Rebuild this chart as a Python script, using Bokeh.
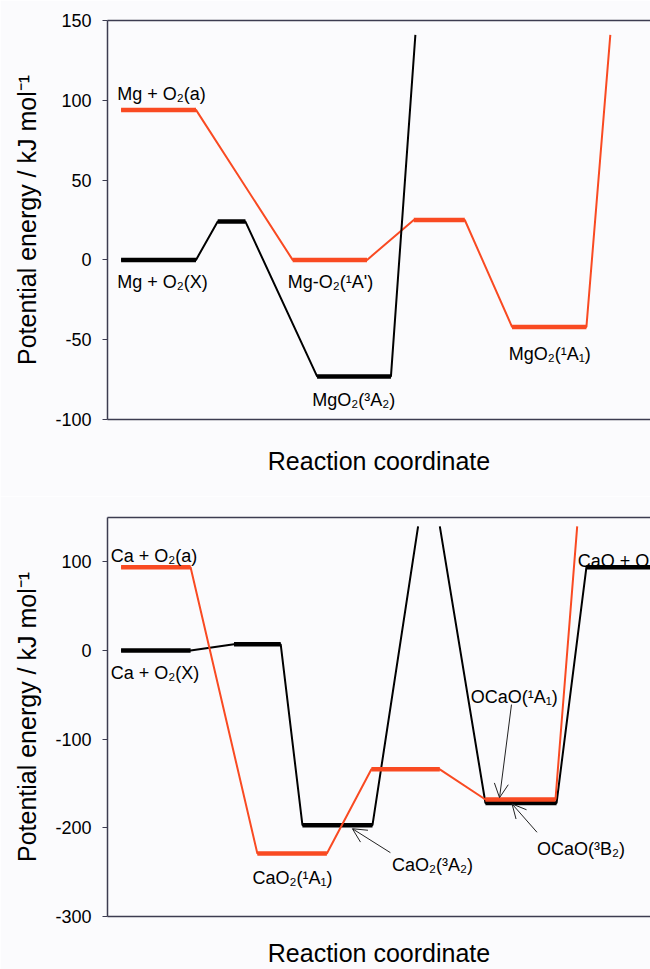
from bokeh.plotting import figure
from bokeh.layouts import column
from bokeh.models import Range1d, FixedTicker, LinearAxis, ColumnDataSource, Arrow, OpenHead
from bokeh.core.properties import value
from bokeh.embed import file_html
from bokeh.resources import INLINE

FONT = "Liberation Sans"
BLACK = "#000000"
RED = "#f94a22"
AXIS = "#3c3c50"
BG = "#fbfbfd"

# ---------------- Mg + O2 panel ----------------
mg_yticks = [-100, -50, 0, 50, 100, 150]
mg_black_x = [0.25, 1.63, 2.03, 2.54, 3.86, 5.22, 5.67]
mg_black_y = [0, 0, 24, 24, -73, -73, 141]
mg_red_x = [0.25, 1.63, 3.41, 4.78, 5.64, 6.58, 7.45, 8.82, 9.26]
mg_red_y = [94, 94, 0, 0, 25, 25, -42, -42, 141]
mg_labels = ["Mg + O₂(a)", "Mg + O₂(X)", "Mg-O₂(¹A')", "MgO₂(³A₂)", "MgO₂(¹A₁)"]
mg_label_x = [0.18, 0.18, 3.32, 3.77, 7.39]
mg_label_y = [104, -14, -14, -88, -59]

# ---------------- Ca + O2 panel ----------------
ca_yticks = [-300, -200, -100, 0, 100]
ca_black1_x = [0.25, 1.53, 2.33, 3.19, 3.59, 4.88, 5.72]
ca_black1_y = [0, 0, 7, 7, -197, -197, 140]
ca_black2_x = [6.12, 6.96, 8.27, 8.82, 10.5]
ca_black2_y = [140, -172, -172, 94, 94]
ca_red_x = [0.25, 1.53, 2.76, 4.04, 4.86, 6.12, 6.96, 8.25, 8.65]
ca_red_y = [94, 94, -229, -229, -134, -134, -168, -168, 140]
ca_labels = ["Ca + O₂(a)", "Ca + O₂(X)", "CaO₂(¹A₁)", "CaO₂(³A₂)", "OCaO(¹A₁)", "OCaO(³B₂)", "CaO + O"]
ca_label_x = [0.06, 0.06, 2.67, 5.24, 6.69, 7.91, 8.66]
ca_label_y = [107, -25, -257, -242, -52, -224, 101]
ca_arrow_x0 = [5.21, 7.44, 7.91]
ca_arrow_y0 = [-228, -61, -205]
ca_arrow_x1 = [4.51, 7.22, 7.45]
ca_arrow_y1 = [-201, -166, -173]

Y_LABEL = "Potential energy / kJ mol⁻¹"
X_LABEL = "Reaction coordinate"


def make_fig(height, ylo, yhi, yticks, top_border, bottom_border, standoff):
    p = figure(width=650, height=height, x_range=Range1d(0, 10), y_range=Range1d(ylo, yhi),
               output_backend="svg", toolbar_location=None,
               min_border_left=107, min_border_right=0,
               min_border_top=top_border, min_border_bottom=bottom_border)
    p.background_fill_color = BG
    p.border_fill_color = BG
    p.outline_line_color = None
    p.grid.visible = False

    xa = p.xaxis[0]
    xa.ticker = FixedTicker(ticks=[])
    xa.major_tick_out = 0
    xa.major_tick_in = 0
    xa.minor_tick_out = 0
    xa.axis_line_color = AXIS
    xa.axis_line_width = 1.5
    xa.axis_label = X_LABEL
    xa.axis_label_text_font = FONT
    xa.axis_label_text_font_size = "25px"
    xa.axis_label_text_font_style = "normal"
    xa.axis_label_text_color = "#000000"
    xa.axis_label_standoff = standoff

    top = LinearAxis(ticker=FixedTicker(ticks=[]), major_tick_out=0, major_tick_in=0,
                     minor_tick_out=0, axis_line_color=AXIS, axis_line_width=1.5)
    p.add_layout(top, "above")

    ya = p.yaxis[0]
    ya.ticker = FixedTicker(ticks=yticks)
    ya.major_label_overrides = {t: str(t) for t in yticks}
    ya.major_tick_out = 5
    ya.major_tick_in = 0
    ya.minor_tick_out = 0
    ya.minor_tick_in = 0
    ya.major_tick_line_color = AXIS
    ya.axis_line_color = AXIS
    ya.axis_line_width = 1.5
    ya.major_label_text_font = FONT
    ya.major_label_text_font_size = "18px"
    ya.major_label_text_color = "#000000"
    ya.major_label_standoff = 11
    ya.axis_label = Y_LABEL
    ya.axis_label_text_font = FONT
    ya.axis_label_text_font_size = "25px"
    ya.axis_label_text_font_style = "normal"
    ya.axis_label_text_color = "#000000"
    ya.axis_label_standoff = 11
    return p


def draw_path(p, xs, ys, color, thin=2, thick=4.5):
    p.line(xs, ys, line_color=color, line_width=thin)
    x0, x1, y0 = [], [], []
    for i in range(len(xs) - 1):
        if ys[i] == ys[i + 1]:
            x0.append(xs[i]); x1.append(xs[i + 1]); y0.append(ys[i])
    p.segment(x0=x0, y0=y0, x1=x1, y1=y0, line_color=color, line_width=thick, line_cap="butt")


def draw_labels(p, xs, ys, texts):
    src = ColumnDataSource(dict(x=xs, y=ys, t=texts))
    p.text(x="x", y="y", text="t", source=src, text_font=value(FONT), text_font_size="18px",
           text_color="#000000", text_align="left", text_baseline="alphabetic")


# top panel
p1 = make_fig(496, -100, 150, mg_yticks, 20, 77, 27)
draw_path(p1, mg_red_x, mg_red_y, RED)
draw_path(p1, mg_black_x, mg_black_y, BLACK)
draw_labels(p1, mg_label_x, mg_label_y, mg_labels)

# bottom panel
p2 = make_fig(473, -300, 150, ca_yticks, 21, 53, 22)
draw_path(p2, ca_black1_x, ca_black1_y, BLACK)
draw_path(p2, ca_black2_x, ca_black2_y, BLACK)
draw_path(p2, ca_red_x, ca_red_y, RED)
draw_labels(p2, ca_label_x, ca_label_y, ca_labels)
for xs0, ys0, xs1, ys1 in zip(ca_arrow_x0, ca_arrow_y0, ca_arrow_x1, ca_arrow_y1):
    p2.add_layout(Arrow(end=OpenHead(size=14, line_width=1, line_color="#222222"),
                        x_start=xs0, y_start=ys0, x_end=xs1, y_end=ys1,
                        line_width=1, line_color="#222222"))

layout = column(p1, p2, spacing=0)
open("out.html", "w").write(file_html(layout, INLINE))
